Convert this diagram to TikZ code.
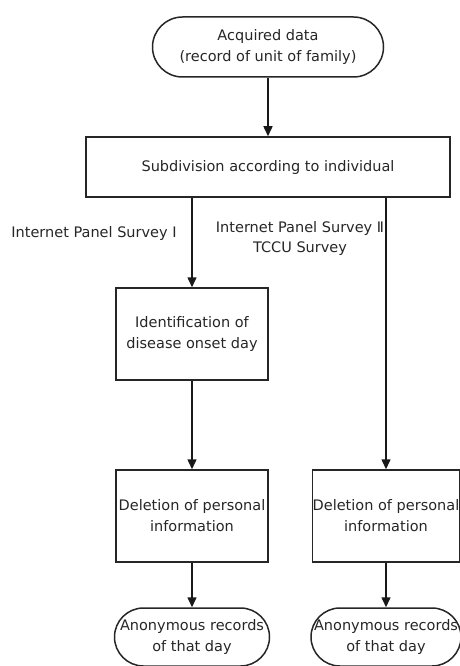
\documentclass[tikz,border=0pt]{standalone}
\usepackage{fontspec}
\setmainfont{DejaVu Sans}
\usetikzlibrary{arrows.meta}

\begin{document}
\begin{tikzpicture}[x=1pt,y=-1pt,>={Triangle[length=10pt,width=9pt]},
  terminal/.style={draw=black!85,line width=1.5pt,rounded corners=29pt,
    minimum height=58pt,align=center,text=black!85,inner sep=0pt,
    font=\fontsize{14.5}{21}\selectfont},
  procbox/.style={draw=black!85,line width=1.5pt,minimum height=92pt,
    align=center,text=black!85,inner sep=0pt,
    font=\fontsize{14.5}{21}\selectfont},
  survey/.style={align=center,text=black!85,inner sep=0pt,
    font=\fontsize{14.5}{20}\selectfont},
  flowarrow/.style={->,draw=black!90,line width=1.5pt}]

  \useasboundingbox (0,0) rectangle (459,666);

  % Start: data of whole family
  \node[terminal,minimum width=231pt,minimum height=60pt,rounded corners=30pt]
    (data) at (268,47) {Acquired data\\(record of unit of family)};

  % Split per person
  \node[procbox,minimum width=364pt,minimum height=60pt] (split) at (268,167)
    {Subdivision according to individual};
  \draw[flowarrow] (data) -- (split);

  % Left branch
  \node[procbox,minimum width=152pt] (ident) at (192,334)
    {Identification of\\disease onset day};
  \node[procbox,minimum width=152pt] (delL) at (192,516)
    {Deletion of personal\\information};
  \node[terminal,minimum width=155pt] (anonL) at (192,637)
    {Anonymous records\\of that day};

  % Right branch
  \node[procbox,minimum width=145pt] (delR) at (386,516)
    {Deletion of personal\\information};
  \node[terminal,minimum width=150pt] (anonR) at (386,637)
    {Anonymous records\\of that day};

  % Survey names
  \node[survey] (lblOne) at (94,233) {Internet Panel Survey Ⅰ};
  \node[survey] (lblTwo) at (300,238) {Internet Panel Survey Ⅱ\\TCCU Survey};

  \draw[flowarrow] (split.south -| ident.north) -- (ident.north);
  \draw[flowarrow] (ident) -- (delL);
  \draw[flowarrow] (delL) -- (anonL);

  \draw[flowarrow] (split.south -| delR.north) -- (delR.north);
  \draw[flowarrow] (delR) -- (anonR);

\end{tikzpicture}
\end{document}
